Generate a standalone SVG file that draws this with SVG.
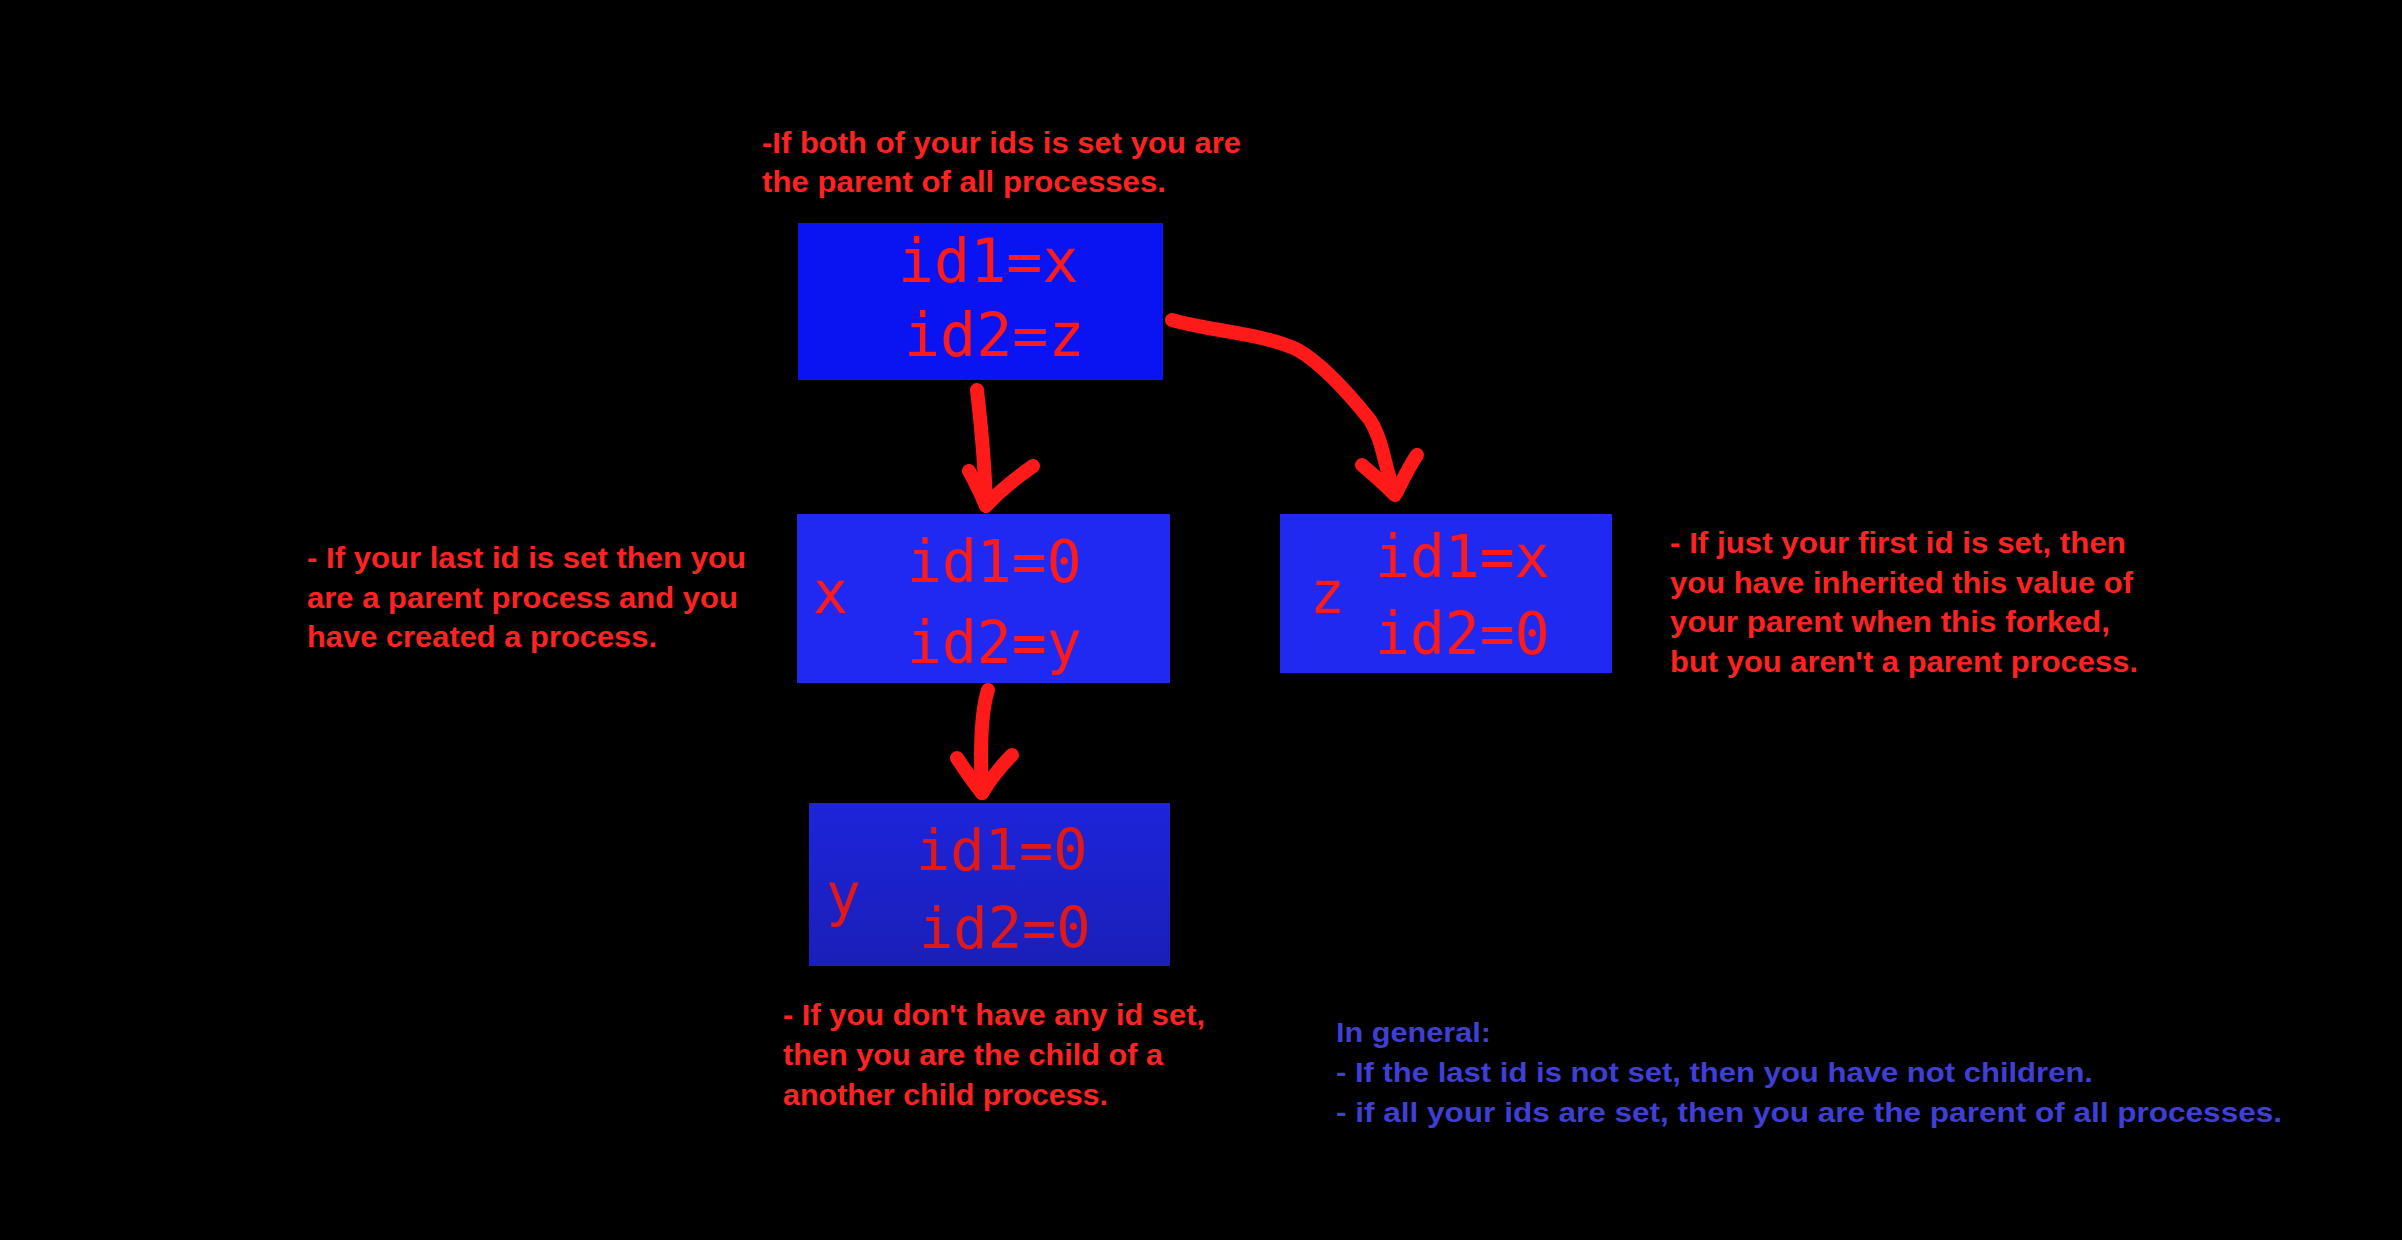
<svg xmlns="http://www.w3.org/2000/svg" width="2402" height="1240" viewBox="0 0 2402 1240">
<style>
.note{font-family:"Liberation Sans",Arial,sans-serif;font-weight:bold;font-size:30px;fill:#ff2222}
.gen{font-family:"Liberation Sans",Arial,sans-serif;font-weight:bold;font-size:28px;fill:#3f3fd6}
.mono{font-family:"DejaVu Sans Mono",monospace;font-size:58px;fill:#ff1a1a}
.arrow{fill:none;stroke:#ff1a1a;stroke-width:14;stroke-linecap:round;stroke-linejoin:round}
</style>
<defs>
<linearGradient id="gy" x1="0" y1="0" x2="0" y2="1">
<stop offset="0" stop-color="#1d24da"/>
<stop offset="1" stop-color="#1a1fb8"/>
</linearGradient>
</defs>
<rect width="2402" height="1240" fill="#000"/>

<g id="note-top">
<text class="note" x="762" y="153" textLength="479" lengthAdjust="spacingAndGlyphs">-If both of your ids is set you are</text>
<text class="note" x="762" y="192" textLength="404" lengthAdjust="spacingAndGlyphs">the parent of all processes.</text>
</g>

<g id="node-root">
<rect x="798" y="223" width="365" height="157" fill="#0a14f2"/>
<text class="mono" style="font-size:60px" x="898" y="282">id1=x</text>
<text class="mono" style="font-size:60px" x="904" y="356">id2=z</text>
</g>

<g id="node-x">
<rect x="797" y="514" width="373" height="169" fill="#2029f2"/>
<text class="mono" x="813" y="613">x</text>
<text class="mono" x="907" y="582">id1=0</text>
<text class="mono" x="907" y="663">id2=y</text>
</g>

<g id="node-z">
<rect x="1280" y="514" width="332" height="159" fill="#2029f0"/>
<text class="mono" x="1310" y="613">z</text>
<text class="mono" x="1375" y="577">id1=x</text>
<text class="mono" x="1375" y="654">id2=0</text>
</g>

<g id="node-y">
<rect x="809" y="803" width="361" height="163" fill="url(#gy)"/>
<text class="mono" style="fill:#e01818" x="826" y="915">y</text>
<text class="mono" style="fill:#e01818;font-size:57px" x="916" y="870">id1=0</text>
<text class="mono" style="fill:#e01818;font-size:57px" x="919" y="948">id2=0</text>
</g>

<g id="note-left">
<text class="note" x="307" y="568" textLength="439" lengthAdjust="spacingAndGlyphs">- If your last id is set then you</text>
<text class="note" x="307" y="608" textLength="431" lengthAdjust="spacingAndGlyphs">are a parent process and you</text>
<text class="note" x="307" y="647" textLength="350" lengthAdjust="spacingAndGlyphs">have created a process.</text>
</g>

<g id="note-right">
<text class="note" x="1670" y="553" textLength="456" lengthAdjust="spacingAndGlyphs">- If just your first id is set, then</text>
<text class="note" x="1670" y="593" textLength="463" lengthAdjust="spacingAndGlyphs">you have inherited this value of</text>
<text class="note" x="1670" y="632" textLength="440" lengthAdjust="spacingAndGlyphs">your parent when this forked,</text>
<text class="note" x="1670" y="672" textLength="468" lengthAdjust="spacingAndGlyphs">but you aren't a parent process.</text>
</g>

<g id="note-bottom">
<text class="note" x="783" y="1025" textLength="422" lengthAdjust="spacingAndGlyphs">- If you don't have any id set,</text>
<text class="note" x="783" y="1065" textLength="380" lengthAdjust="spacingAndGlyphs">then you are the child of a</text>
<text class="note" x="783" y="1105" textLength="325" lengthAdjust="spacingAndGlyphs">another child process.</text>
</g>

<g id="note-general">
<text class="gen" x="1336" y="1042" textLength="155" lengthAdjust="spacingAndGlyphs">In general:</text>
<text class="gen" x="1336" y="1082" textLength="757" lengthAdjust="spacingAndGlyphs">- If the last id is not set, then you have not children.</text>
<text class="gen" x="1336" y="1122" textLength="946" lengthAdjust="spacingAndGlyphs">- if all your ids are set, then you are the parent of all processes.</text>
</g>

<g id="connectors">
<path class="arrow" d="M977,390 C981,425 985,465 986,505"/>
<path class="arrow" d="M969,471 C975,482 981,494 986,506 C1000,490 1016,478 1033,466"/>
<path class="arrow" d="M1172,320 C1215,332 1262,333 1298,350 C1322,364 1350,395 1370,420 C1384,442 1384,468 1395,493"/>
<path class="arrow" d="M1362,465 C1375,476 1386,486 1395,495 C1402,482 1408,468 1417,455"/>
<path class="arrow" d="M988,690 C981,712 980,752 982,793"/>
<path class="arrow" d="M957,758 C965,770 973,782 982,793 C990,780 1000,767 1012,755"/>
</g>
</svg>
